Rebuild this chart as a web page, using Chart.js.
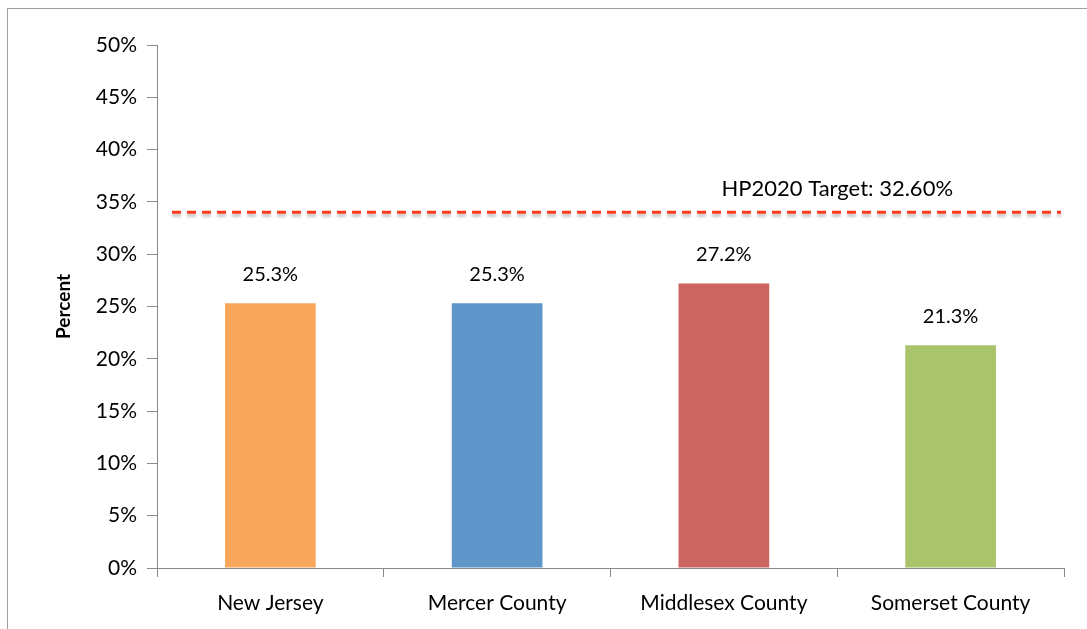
<!DOCTYPE html>
<html>
<head>
<meta charset="utf-8">
<script src="https://cdn.jsdelivr.net/npm/chart.js@4"></script>
<style>
  body { margin: 0; background: #fff; }
  #wrap { position: relative; width: 1087px; height: 629px; overflow: hidden; }
  #frame { position: absolute; left: 7px; top: 8px; width: 1090px; height: 640px; border: 1px solid #a0a0a0; box-sizing: border-box; }
  canvas { position: absolute; left: 0; top: 0; }
</style>
</head>
<body>
<div id="wrap">
  <div id="frame"></div>
  <canvas id="chart" width="1087" height="629"></canvas>
</div>
<script>
const categories = ['New Jersey', 'Mercer County', 'Middlesex County', 'Somerset County'];
const values = [25.3, 25.3, 27.2, 21.3];
const barColors = ['#F9A75A', '#6095C9', '#CC6560', '#A9C46B'];
const targetLine = 34;
const targetLabel = 'HP2020 Target: 32.60%';
const fontName = 'Lato, "Open Sans", sans-serif';

// dashed target line + its label
const targetPlugin = {
    id: 'target',
    afterDatasetsDraw(chart) {
        const ctx = chart.ctx;
        const area = chart.chartArea;
        const y = chart.scales.y.getPixelForValue(targetLine);
        ctx.save();
        ctx.strokeStyle = '#FF3A1E';
        ctx.lineWidth = 3;
        ctx.setLineDash([9, 6]);
        ctx.shadowColor = 'rgba(0,0,0,0.25)';
        ctx.shadowOffsetY = 3;
        ctx.shadowBlur = 3;
        ctx.beginPath();
        ctx.moveTo(area.left + 15, y);
        ctx.lineTo(area.right - 3, y);
        ctx.stroke();
        ctx.restore();

        ctx.save();
        ctx.fillStyle = '#000';
        ctx.font = '22px ' + fontName;
        ctx.textAlign = 'center';
        ctx.textBaseline = 'bottom';
        ctx.fillText(targetLabel, chart.scales.x.getPixelForValue(2.5), y - 12);
        ctx.restore();
    }
};

// value labels above bars
const valueLabels = {
    id: 'valueLabels',
    afterDatasetsDraw(chart) {
        const ctx = chart.ctx;
        const meta = chart.getDatasetMeta(0);
        ctx.save();
        ctx.fillStyle = '#000';
        ctx.font = '20px ' + fontName;
        ctx.textAlign = 'center';
        ctx.textBaseline = 'bottom';
        meta.data.forEach((bar, i) => {
            ctx.fillText(values[i].toFixed(1) + '%', bar.x, bar.y - 19);
        });
        ctx.restore();
    }
};

new Chart(document.getElementById('chart'), {
    type: 'bar',
    data: {
        labels: categories,
        datasets: [{
            data: values,
            backgroundColor: barColors,
            barPercentage: 0.4,
            categoryPercentage: 1
        }]
    },
    options: {
        responsive: false,
        animation: false,
        layout: { padding: { left: 0, top: 45, right: 23, bottom: 1 } },
        plugins: {
            legend: { display: false },
            tooltip: { enabled: false }
        },
        scales: {
            x: {
                offset: true,
                grid: { offset: true, drawOnChartArea: false, tickLength: 9, color: '#888', tickWidth: 1 },
                border: { color: '#888', width: 1 },
                ticks: { color: '#000', font: { family: fontName, size: 21 }, padding: 14 },
                afterFit(scale) { scale.height = 60; }
            },
            y: {
                min: 0,
                max: 50,
                ticks: {
                    stepSize: 5,
                    color: '#000',
                    padding: 10,
                    font: { family: fontName, size: 21 },
                    callback: v => v + '%'
                },
                grid: { drawOnChartArea: false, tickLength: 10, color: '#888' },
                border: { color: '#888', width: 1 },
                title: {
                    display: true,
                    text: 'Percent',
                    color: '#000',
                    font: { family: fontName, size: 19, weight: 'bold' },
                    padding: { top: 52, bottom: 6 }
                },
                afterFit(scale) { scale.width = 157; }
            }
        }
    },
    plugins: [targetPlugin, valueLabels]
});
</script>
</body>
</html>
